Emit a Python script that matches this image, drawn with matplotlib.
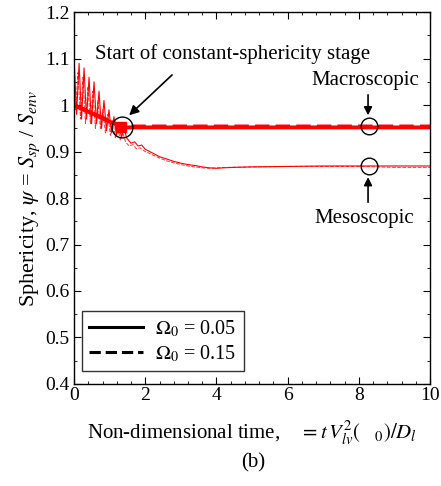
import matplotlib
matplotlib.use("Agg")
import matplotlib.pyplot as plt
from matplotlib.ticker import MultipleLocator

plt.rcParams['font.family'] = ['Liberation Serif', 'DejaVu Serif']
plt.rcParams['mathtext.fontset'] = 'stix'

# Macroscopic curves
t_macro = [0.0, 1.35, 10.0]
psi_macro_005 = [1.0, 0.952, 0.952]
psi_macro_015 = [1.0, 0.954, 0.954]

# Mesoscopic curves
t_meso_005 = [0.00, 0.07, 0.14, 0.21, 0.28, 0.35, 0.42, 0.49, 0.56, 0.63, 0.70, 0.77, 0.84, 0.91,
              0.98, 1.05, 1.12, 1.19, 1.26, 1.33, 1.40, 1.47, 1.6, 1.7, 1.8, 1.9, 2.0, 2.2, 2.4,
              2.6, 2.8, 3.0, 3.2, 3.4, 3.6, 3.8, 4.0, 4.2, 4.5, 5.0, 6.0, 7.0, 8.0, 9.0, 10.0]
psi_meso_005 = [1.10, 0.98, 1.09, 0.97, 1.08, 0.97, 1.06, 0.96, 1.05, 0.96, 1.03, 0.95, 1.01, 0.945,
                0.99, 0.94, 0.975, 0.935, 0.96, 0.93, 0.955, 0.93, 0.918, 0.921, 0.912, 0.914, 0.905,
                0.897, 0.889, 0.884, 0.879, 0.875, 0.872, 0.870, 0.867, 0.865, 0.864, 0.865, 0.866,
                0.867, 0.868, 0.869, 0.869, 0.869, 0.869]
t_meso_015 = [0.00, 0.04, 0.11, 0.18, 0.25, 0.32, 0.39, 0.46, 0.53, 0.60, 0.67, 0.74, 0.81, 0.88,
              0.95, 1.02, 1.09, 1.16, 1.23, 1.30, 1.37, 1.45, 1.55, 1.65, 1.75, 1.85, 2.0, 2.2,
              2.4, 2.6, 2.8, 3.0, 3.2, 3.4, 3.6, 3.8, 4.0, 4.3, 5.0, 6.0, 7.0, 8.0, 8.5, 9.0, 10.0]
psi_meso_015 = [1.08, 0.99, 1.07, 0.97, 1.06, 0.96, 1.04, 0.96, 1.03, 0.95, 1.01, 0.95, 0.99, 0.94,
                0.98, 0.935, 0.965, 0.93, 0.95, 0.925, 0.94, 0.92, 0.912, 0.915, 0.906, 0.908, 0.900,
                0.893, 0.886, 0.880, 0.876, 0.872, 0.869, 0.867, 0.865, 0.864, 0.865, 0.866, 0.867,
                0.868, 0.868, 0.868, 0.867, 0.866, 0.866]

circle_t = [1.35, 8.3, 8.3]
circle_psi = [0.953, 0.955, 0.868]

fig = plt.figure(figsize=(4.41, 4.86), dpi=100)
ax = fig.add_axes([0.168, 0.21, 0.807, 0.765])

red = '#ff0000'
ax.plot(t_meso_015, psi_meso_015, color=red, lw=0.7, ls='--', alpha=0.8)
ax.plot(t_meso_005, psi_meso_005, color=red, lw=0.8, ls='-')
ax.plot(t_macro, psi_macro_005, color=red, lw=2.8, ls='-')
ax.plot(t_macro, psi_macro_015, color=red, lw=2.8, ls='--')
ax.plot([1.32], [0.953], marker='s', ms=7, color=red)

ax.plot(circle_t[:1], circle_psi[:1], 'o', mfc='none', mec='black', ms=15, mew=1.0)
ax.plot(circle_t[1:], circle_psi[1:], 'o', mfc='none', mec='black', ms=12, mew=1.0)

# legend proxies
l1, = ax.plot([], [], color='black', lw=2.2, ls='-')
l2, = ax.plot([], [], color='black', lw=2.2, ls='--')
leg = ax.legend([l1, l2], [r'$\Omega_0$ = 0.05', r'$\Omega_0$ = 0.15'], loc='lower left',
                bbox_to_anchor=(0.022, 0.035), fontsize=14.5, frameon=True, fancybox=False,
                edgecolor='black', handlelength=2.7, borderpad=0.35, labelspacing=0.2,
                handletextpad=0.6, borderaxespad=0.0)
leg.get_frame().set_linewidth(1.0)

ax.text(0.59, 1.11, 'Start of constant-sphericity stage', fontsize=15, ha='left', va='center')
ax.annotate('', xy=(1.49, 0.974), xytext=(2.81, 1.069),
            arrowprops=dict(arrowstyle='-|>', color='black', lw=1.2, mutation_scale=14))

ax.text(8.19, 1.054, 'Macroscopic', fontsize=15, ha='center', va='center')
ax.annotate('', xy=(8.26, 0.972), xytext=(8.26, 1.028),
            arrowprops=dict(arrowstyle='-|>', color='black', lw=1.2, mutation_scale=12))
ax.text(8.15, 0.757, 'Mesoscopic', fontsize=15, ha='center', va='center')
ax.annotate('', xy=(8.26, 0.851), xytext=(8.26, 0.785),
            arrowprops=dict(arrowstyle='-|>', color='black', lw=1.2, mutation_scale=12))

ax.set_xlim(0, 10)
ax.set_ylim(0.4, 1.2)
ax.xaxis.set_major_locator(MultipleLocator(2))
ax.xaxis.set_minor_locator(MultipleLocator(0.4))
ax.yaxis.set_minor_locator(MultipleLocator(0.05))
ax.set_yticks([0.4, 0.5, 0.6, 0.7, 0.8, 0.9, 1.0, 1.1, 1.2])
ax.set_yticklabels(['0.4', '0.5', '0.6', '0.7', '0.8', '0.9', '1', '1.1', '1.2'])
ax.tick_params(which='both', direction='in', top=True, right=True, labelsize=14)
ax.tick_params(which='major', length=5)
ax.tick_params(which='minor', length=2.5)
ax.tick_params(axis='x', pad=2)
for s in ax.spines.values():
    s.set_linewidth(1.0)

ax.set_ylabel(r'Sphericity, $\psi$ = $S_{sp}$ / $S_{env}$', fontsize=16, labelpad=2)
fig.text(0.572, 0.109, r'Non-dimensional time, $\ \ \ = t\,V_{lv}^{2}\left(\ \ \ _{0}\right)/D_l$',
         fontsize=15, ha='center', va='center')
fig.text(0.575, 0.047, '(b)', fontsize=15, ha='center', va='center')

fig.savefig('out.png', dpi=100)
